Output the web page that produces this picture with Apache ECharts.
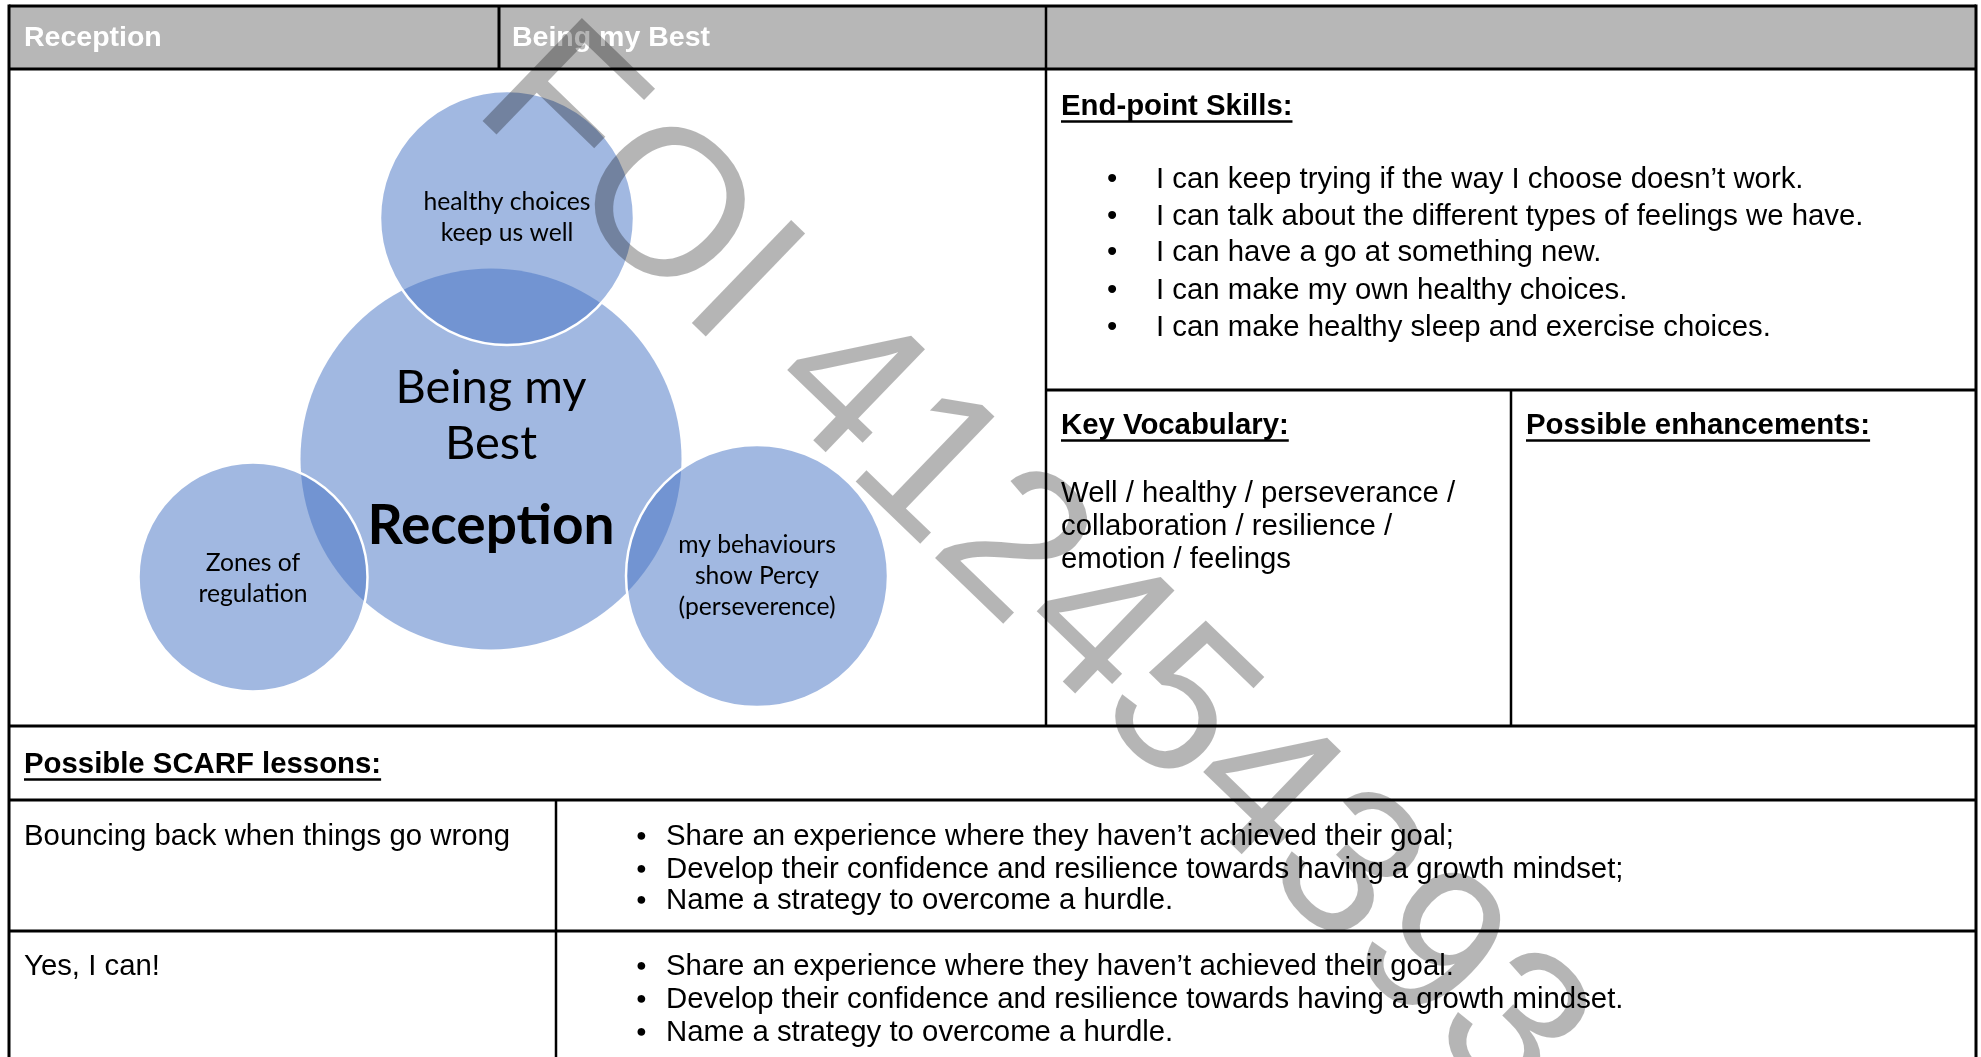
<!DOCTYPE html>
<html><head><meta charset="utf-8">
<script src="https://cdn.jsdelivr.net/npm/echarts@6/dist/echarts.min.js"></script>
<style>html,body{margin:0;padding:0;background:#fff;overflow:hidden}#main{width:1981px;height:1057px}</style>
</head><body><div id="main"></div>
<script>
// ---- content ----
const headerLabels = ['Reception', 'Being my Best', ''];
const endPointTitle = 'End-point Skills:';
const endPointSkills = [
  'I can keep trying if the way I choose doesn\u2019t work.',
  'I can talk about the different types of feelings we have.',
  'I can have a go at something new.',
  'I can make my own healthy choices.',
  'I can make healthy sleep and exercise choices.'
];
const vocabTitle = 'Key Vocabulary:';
const vocabLines = ['Well / healthy / perseverance /', 'collaboration / resilience /', 'emotion / feelings'];
const enhancementsTitle = 'Possible enhancements:';
const scarfTitle = 'Possible SCARF lessons:';
const lessonNames = ['Bouncing back when things go wrong', 'Yes, I can!'];
const lessonBullets1 = [
  'Share an experience where they haven\u2019t achieved their goal;',
  'Develop their confidence and resilience towards having a growth mindset;',
  'Name a strategy to overcome a hurdle.'
];
const lessonBullets2 = [
  'Share an experience where they haven\u2019t achieved their goal.',
  'Develop their confidence and resilience towards having a growth mindset.',
  'Name a strategy to overcome a hurdle.'
];
const circleLabels = ['Being my\nBest', 'healthy choices\nkeep us well', 'Zones of\nregulation', 'my behaviours\nshow Percy\n(perseverence)'];
const circleSubtitle = 'Reception';
const watermarkText = 'FOI 412454393';

// ---- diagram layout (in diagram-cell units) ----
const circleX = [482, 498, 244, 748];
const circleY = [390, 149, 508, 507];
const circleD = [381, 254, 229, 262];

// ---- page layout ----
const F = '"Liberation Sans", Arial, sans-serif';
const BODY = 29.35, HEAD = 28.5;
const DY = 2.5;
const L = 9, R = 1976, T = 6, B = 1060;
const yHead = 69, yRow2 = 726, yInner = 390, yScarf = 800, yLesson = 931;
const xHead1 = 499, xMid = 1046, xInner = 1511, xLesson = 556;

const ctx = document.createElement('canvas').getContext('2d');
function measure(t, font) { ctx.font = font; return ctx.measureText(t).width; }

const g = [];
function txt(t, x, y, o = {}) {
  const font = (o.bold ? 'bold ' : '') + (o.size || BODY) + 'px ' + F;
  const yy = y + (o.noShift ? 0 : DY);
  g.push({type: 'text', z: 20, silent: true,
    style: {text: t, x: x, y: yy, fill: o.fill || '#000', font: font,
      textAlign: 'left', textVerticalAlign: 'middle', align: 'left', verticalAlign: 'middle'}});
  if (o.underline) {
    const w = measure(t, font);
    g.push({type: 'line', z: 20, silent: true, shape: {x1: x, y1: yy + 15, x2: x + w, y2: yy + 15}, style: {stroke: '#000', lineWidth: 2.5}});
  }
}
function line(x1, y1, x2, y2, w) {
  g.push({type: 'line', z: 30, silent: true, shape: {x1, y1, x2, y2}, style: {stroke: '#000', lineWidth: w || 3}});
}

// header background
g.push({type: 'rect', z: 1, silent: true, shape: {x: L, y: T, width: R - L, height: yHead - T}, style: {fill: '#b7b7b7'}});
txt(headerLabels[0], 24, 38, {bold: true, size: HEAD, fill: '#ffffff', noShift: true});
txt(headerLabels[1], 512, 38, {bold: true, size: HEAD, fill: '#ffffff', noShift: true});
txt(headerLabels[2], 1060, 38, {bold: true, size: HEAD, fill: '#ffffff', noShift: true});

// grid lines
line(L, T, R, T); line(L, yHead, R, yHead); line(L, yRow2, R, yRow2);
line(L, yScarf, R, yScarf); line(L, yLesson, R, yLesson);
line(xMid, yInner, R, yInner);
line(L, T - 1.5, L, B); line(R, T - 1.5, R, B);
line(xHead1, T, xHead1, yHead); line(xMid, T, xMid, yRow2, 2.5);
line(xInner, yInner, xInner, yRow2, 2.5); line(xLesson, yScarf, xLesson, B, 2.5);

// end-point skills
txt(endPointTitle, 1061, 104, {bold: true, underline: true});
const epY = [177, 214, 250, 288, 325];
endPointSkills.forEach((s, i) => { txt('\u2022', 1107, epY[i]); txt(s, 1156, epY[i]); });

// vocab
txt(vocabTitle, 1061, 423, {bold: true, underline: true});
const vY = [491, 524, 557];
vocabLines.forEach((s, i) => txt(s, 1061, vY[i]));
txt(enhancementsTitle, 1526, 423, {bold: true, underline: true});

// SCARF
txt(scarfTitle, 24, 762, {bold: true, underline: true});
txt(lessonNames[0], 24, 834);
const l1Y = [834, 867, 898];
lessonBullets1.forEach((s, i) => { txt('\u25CF', 636, l1Y[i], {size: 18}); txt(s, 666, l1Y[i]); });
txt(lessonNames[1], 24, 964);
const l2Y = [964, 997, 1030];
lessonBullets2.forEach((s, i) => { txt('\u25CF', 636, l2Y[i], {size: 18}); txt(s, 666, l2Y[i]); });

// watermark
g.push({type: 'text', z: 200, silent: true, x: 1030, y: 570, rotation: -44 * Math.PI / 180,
  style: {text: watermarkText, x: 0, y: 0, fill: 'rgba(0,0,0,0.29)', font: '208px ' + F,
    textAlign: 'center', textVerticalAlign: 'middle', align: 'center', verticalAlign: 'middle'}});

const LF = 'Lato, "Open Sans", sans-serif';
const chart = echarts.init(document.getElementById('main'));
chart.setOption({
  animation: false,
  grid: {left: L, top: yHead, width: xMid - L, height: yRow2 - yHead, show: false},
  xAxis: {type: 'value', min: 0, max: xMid - L, show: false},
  yAxis: {type: 'value', min: 0, max: yRow2 - yHead, inverse: true, show: false},
  series: [{
    type: 'scatter', silent: true, symbol: 'circle', z: 5, clip: false,
    symbolSize: v => v[2],
    itemStyle: {color: 'rgba(68,114,196,0.5)', opacity: 1},
    data: circleLabels.map((lab, i) => ({
      value: [circleX[i], circleY[i], circleD[i]],
      itemStyle: i === 0 ? {borderWidth: 0} : {borderColor: '#ffffff', borderWidth: 2.5},
      label: i === 0 ? {
        show: true, position: 'inside', offset: [0, 11],
        formatter: lab.split('\n').map(s => '{a|' + s + '}').join('\n') + '\n{b|' + circleSubtitle + '}',
        rich: {a: {fontFamily: LF, fontSize: 47, lineHeight: 56, color: '#000'},
               b: {fontFamily: LF, fontSize: 55, fontWeight: 'bold', lineHeight: 108, color: '#000'}}
      } : {
        show: true, position: 'inside', formatter: lab, offset: i === 2 ? [0, 2] : [0, 0],
        fontFamily: LF, fontSize: 24.7, lineHeight: 31, color: '#000'
      }
    }))
  }],
  graphic: g
});
</script></body></html>
